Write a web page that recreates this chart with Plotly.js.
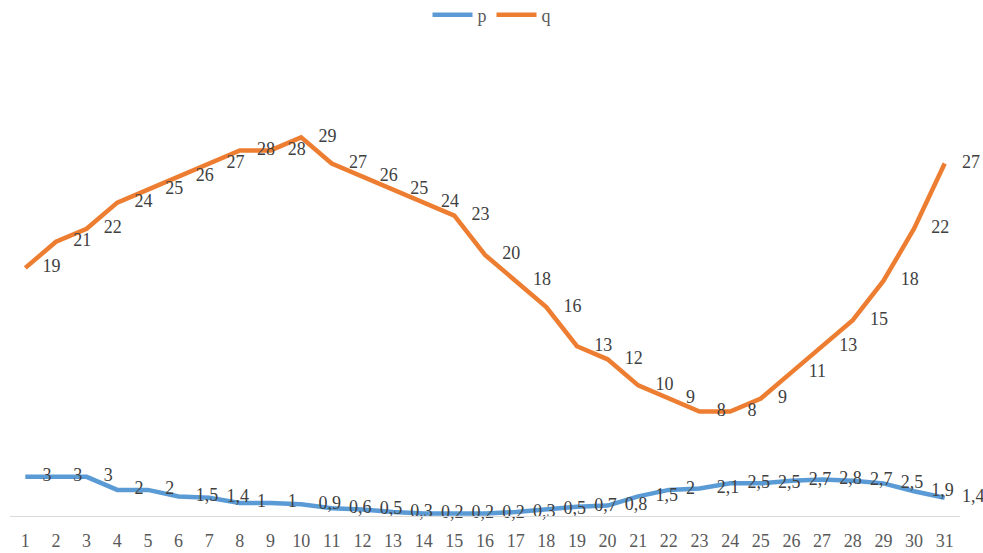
<!DOCTYPE html>
<html>
<head>
<meta charset="utf-8">
<script src="https://cdn.plot.ly/plotly-3.0.1.min.js"></script>
<style>html,body{margin:0;padding:0;background:#fff;}#chart{width:983px;height:553px;}</style>
</head>
<body>
<div id="chart"></div>
<script>
var days = [1,2,3,4,5,6,7,8,9,10,11,12,13,14,15,16,17,18,19,20,21,22,23,24,25,26,27,28,29,30,31];
var pValues = [3,3,3,2,2,1.5,1.4,1,1,0.9,0.6,0.5,0.3,0.2,0.2,0.2,0.3,0.5,0.7,0.8,1.5,2,2.1,2.5,2.5,2.7,2.8,2.7,2.5,1.9,1.4];
var qValues = [19,21,22,24,25,26,27,28,28,29,27,26,25,24,23,20,18,16,13,12,10,9,8,8,9,11,13,15,18,22,27];
var seriesNames = ['p', 'q'];

function fmt(v) { return String(v).replace('.', ','); }

var serif = 'Liberation Serif, Times New Roman, serif';
var labelFont = {family: serif, size: 18, color: '#404040'};

function makeTrace(name, vals, color) {
  return {
    type: 'scatter',
    mode: 'lines+markers+text',
    name: name,
    x: days,
    y: vals,
    text: vals.map(fmt),
    textposition: 'middle right',
    textfont: labelFont,
    cliponaxis: false,
    line: {color: color, width: 4.5},
    marker: {size: 26, color: 'rgba(0,0,0,0)'},
    hoverinfo: 'x+y+name'
  };
}

var data = [
  makeTrace(seriesNames[0], pValues, '#5B9BD5'),
  makeTrace(seriesNames[1], qValues, '#ED7D31')
];

var layout = {
  width: 983,
  height: 553,
  margin: {l: 10, r: 23, t: 59, b: 37},
  paper_bgcolor: '#ffffff',
  plot_bgcolor: '#ffffff',
  font: {family: serif},
  showlegend: true,
  legend: {
    orientation: 'h',
    x: 0.5, xanchor: 'center',
    xref: 'container',
    y: 0.973, yanchor: 'middle', yref: 'container',
    itemwidth: 40,
    font: {family: serif, size: 18, color: '#595959'},
    bgcolor: 'rgba(0,0,0,0)'
  },
  xaxis: {
    type: 'linear',
    range: [0.5, 31.5],
    tickmode: 'array',
    tickvals: days,
    ticktext: days.map(String),
    showgrid: false,
    zeroline: false,
    showline: true,
    linecolor: '#d9d9d9',
    linewidth: 1,
    ticks: '',
    ticklabelstandoff: 8,
    tickfont: {family: serif, size: 18, color: '#595959'},
    fixedrange: true
  },
  yaxis: {
    range: [0, 35],
    visible: false,
    showgrid: false,
    zeroline: false,
    fixedrange: true
  }
};

Plotly.newPlot('chart', data, layout, {displayModeBar: false, staticPlot: true});
</script>
</body>
</html>
